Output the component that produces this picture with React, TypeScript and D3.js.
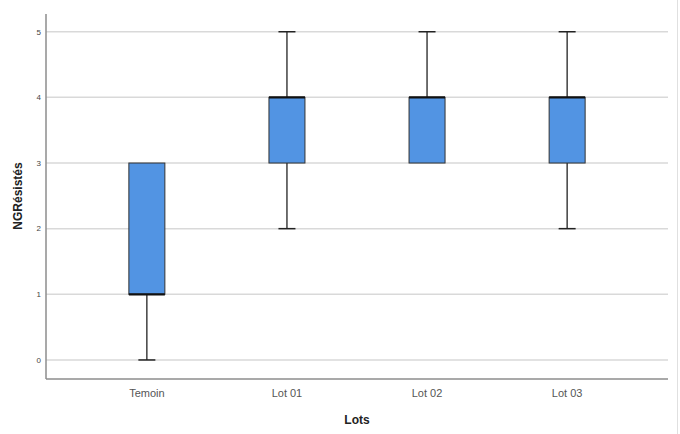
import React from 'react';
import * as d3 from 'd3';

const lots = ['Temoin', 'Lot 01', 'Lot 02', 'Lot 03'];
const mins = [0, 2, 3, 2];
const q1s = [1, 3, 3, 3];
const medians = [1, 4, 4, 4];
const q3s = [3, 4, 4, 4];
const maxs = [3, 5, 5, 5];
const yTicks = [0, 1, 2, 3, 4, 5];

const W = 680;
const H = 434;

const App = () => {
    const x = d3.scalePoint<string>().domain(lots).range([46, 668]).padding(0.72);
    const y = d3.scaleLinear().domain([-0.29, 5.27]).range([379, 14]);
    const boxW = 36;
    const capW = 17;

    return (
        <svg width={W} height={H} style={{ position: 'absolute', left: 0, top: 0, background: '#fff' }}
            fontFamily="Arial, 'Liberation Sans', sans-serif">
            {/* gridlines */}
            {yTicks.map((t) => (
                <line key={'g' + t} x1={46} x2={668} y1={y(t)} y2={y(t)} stroke="#d9d9d9" strokeWidth={1.5} />
            ))}
            {/* axes */}
            <line x1={46} x2={46} y1={14} y2={379} stroke="#8c8c8c" strokeWidth={1.5} />
            <line x1={46} x2={668} y1={379} y2={379} stroke="#8c8c8c" strokeWidth={1.5} />
            {yTicks.map((t) => (
                <text key={'t' + t} x={41} y={y(t)} dy="0.35em" textAnchor="end" fontSize={8} fill="#444">{t}</text>
            ))}
            {lots.map((l) => (
                <text key={'l' + l} x={x(l)} y={397} textAnchor="middle" fontSize={11} fill="#555">{l}</text>
            ))}
            <text x={357} y={424} textAnchor="middle" fontSize={12} fontWeight="bold" fill="#222">Lots</text>
            <text transform={`translate(22,196) rotate(-90)`} textAnchor="middle" fontSize={12} fontWeight="bold" fill="#222">NGRésistés</text>
            {/* boxes */}
            {lots.map((l, i) => {
                const cx = x(l) as number;
                return (
                    <g key={'b' + l}>
                        {mins[i] < q1s[i] && (
                            <>
                                <line x1={cx} x2={cx} y1={y(q1s[i])} y2={y(mins[i])} stroke="#222" strokeWidth={1.3} />
                                <line x1={cx - capW / 2} x2={cx + capW / 2} y1={y(mins[i])} y2={y(mins[i])} stroke="#222" strokeWidth={1.5} />
                            </>
                        )}
                        {maxs[i] > q3s[i] && (
                            <>
                                <line x1={cx} x2={cx} y1={y(maxs[i])} y2={y(q3s[i])} stroke="#222" strokeWidth={1.3} />
                                <line x1={cx - capW / 2} x2={cx + capW / 2} y1={y(maxs[i])} y2={y(maxs[i])} stroke="#222" strokeWidth={1.5} />
                            </>
                        )}
                        <rect x={cx - boxW / 2} y={y(q3s[i])} width={boxW} height={y(q1s[i]) - y(q3s[i])}
                            fill="#5294e3" stroke="#333" strokeWidth={1} />
                        <line x1={cx - boxW / 2} x2={cx + boxW / 2} y1={y(medians[i])} y2={y(medians[i])} stroke="#111" strokeWidth={2.2} />
                    </g>
                );
            })}
            <line x1={677.5} x2={677.5} y1={0} y2={H} stroke="#e0e0e0" strokeWidth={1} />
        </svg>
    );
};

export default App;
